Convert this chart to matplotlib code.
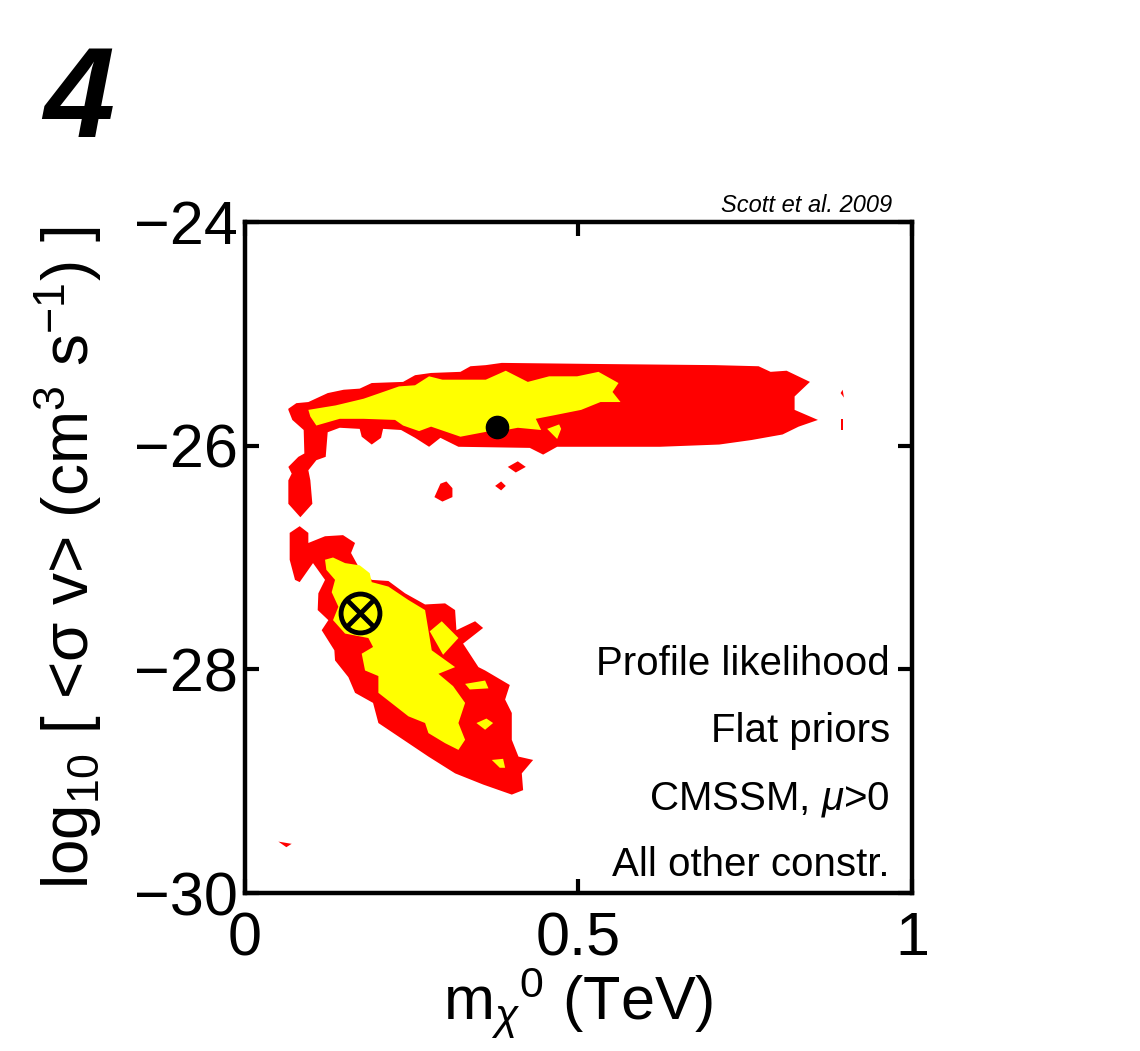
import matplotlib
matplotlib.use('Agg')
import matplotlib.pyplot as plt

plt.rcParams['font.family'] = ['Liberation Sans', 'DejaVu Sans']
plt.rcParams['mathtext.fontset'] = 'custom'
plt.rcParams['mathtext.rm'] = 'Liberation Sans'
plt.rcParams['mathtext.it'] = 'Liberation Sans:italic'

# contour outlines: x = neutralino mass (TeV), y = log10 <sigma v>
# upper branch, 95% (red)
upper_red_x = [0.065, 0.077, 0.095, 0.124, 0.148, 0.172, 0.190, 0.237, 0.255, 0.279,
               0.323, 0.338, 0.361, 0.385, 0.533, 0.705, 0.770, 0.788, 0.812, 0.847,
               0.824, 0.824, 0.859, 0.830, 0.806, 0.759, 0.711, 0.622, 0.468, 0.447,
               0.427, 0.320, 0.293, 0.276, 0.255, 0.234, 0.207, 0.204, 0.190, 0.175,
               0.172, 0.142, 0.124, 0.121, 0.107, 0.095, 0.098, 0.101, 0.083, 0.065,
               0.065, 0.070, 0.065, 0.080, 0.089, 0.088, 0.071, 0.065]
upper_red_y = [-25.67, -25.62, -25.61, -25.53, -25.50, -25.49, -25.44, -25.43, -25.37, -25.35,
               -25.34, -25.29, -25.28, -25.26, -25.27, -25.28, -25.29, -25.34, -25.33, -25.43,
               -25.56, -25.68, -25.77, -25.83, -25.90, -25.95, -25.99, -26.01, -26.01, -26.08,
               -26.02, -26.01, -25.93, -26.01, -25.93, -25.86, -25.85, -25.93, -25.99, -25.92,
               -25.85, -25.84, -25.88, -26.10, -26.13, -26.22, -26.31, -26.52, -26.64, -26.52,
               -26.31, -26.25, -26.19, -26.10, -26.07, -25.86, -25.77, -25.68]

# upper branch, 68% (yellow)
upper_yel_x = [0.095, 0.136, 0.178, 0.207, 0.231, 0.255, 0.276, 0.296, 0.361, 0.391,
               0.424, 0.456, 0.498, 0.530, 0.560, 0.551, 0.563, 0.533, 0.504, 0.462,
               0.436, 0.444, 0.409, 0.391, 0.367, 0.323, 0.279, 0.261, 0.237, 0.225,
               0.178, 0.142, 0.107, 0.098]
upper_yel_y = [-25.68, -25.64, -25.58, -25.52, -25.47, -25.46, -25.38, -25.41, -25.41, -25.33,
               -25.43, -25.38, -25.38, -25.34, -25.44, -25.52, -25.61, -25.61, -25.68, -25.73,
               -25.76, -25.86, -25.84, -25.86, -25.87, -25.92, -25.83, -25.87, -25.82, -25.77,
               -25.76, -25.76, -25.82, -25.74]

# lower branch, 95% (red)
lower_red_x = [0.067, 0.082, 0.095, 0.095, 0.120, 0.147, 0.165, 0.159, 0.170, 0.190,
               0.215, 0.240, 0.270, 0.300, 0.315, 0.317, 0.345, 0.357, 0.327, 0.350,
               0.360, 0.397, 0.390, 0.400, 0.400, 0.410, 0.432, 0.415, 0.417, 0.400,
               0.357, 0.315, 0.275, 0.230, 0.200, 0.192, 0.165, 0.155, 0.135, 0.134,
               0.115, 0.125, 0.109, 0.110, 0.120, 0.102, 0.082, 0.075, 0.067]
lower_red_y = [-26.78, -26.72, -26.78, -26.87, -26.81, -26.80, -26.87, -26.96, -27.08, -27.20,
               -27.21, -27.32, -27.42, -27.41, -27.47, -27.65, -27.57, -27.63, -27.77, -27.98,
               -28.01, -28.14, -28.27, -28.39, -28.63, -28.78, -28.81, -28.93, -29.08, -29.12,
               -29.03, -28.93, -28.78, -28.60, -28.48, -28.30, -28.21, -28.07, -27.92, -27.83,
               -27.65, -27.56, -27.47, -27.32, -27.20, -27.05, -27.22, -27.20, -27.02]

# lower branch, 68% (yellow)
lower_yel_x = [0.120, 0.132, 0.150, 0.172, 0.187, 0.190, 0.215, 0.245, 0.270, 0.275,
               0.280, 0.315, 0.290, 0.312, 0.330, 0.320, 0.330, 0.320, 0.300, 0.275,
               0.270, 0.245, 0.200, 0.200, 0.180, 0.175, 0.192, 0.185, 0.150, 0.132,
               0.140, 0.130, 0.135, 0.122]
lower_yel_y = [-27.02, -27.00, -27.05, -27.07, -27.14, -27.22, -27.26, -27.38, -27.47, -27.65,
               -27.83, -27.98, -28.04, -28.15, -28.30, -28.48, -28.63, -28.72, -28.66, -28.57,
               -28.48, -28.42, -28.21, -28.06, -28.01, -27.86, -27.80, -27.72, -27.68, -27.56,
               -27.44, -27.31, -27.20, -27.11]

# small islands
red_islands = [
    ([0.394, 0.409, 0.421, 0.406], [-26.19, -26.14, -26.19, -26.24]),
    ([0.375, 0.384, 0.391, 0.384], [-26.36, -26.32, -26.36, -26.40]),
    ([0.284, 0.293, 0.302, 0.311, 0.311, 0.296], [-26.46, -26.34, -26.32, -26.38, -26.46, -26.50]),
    ([0.893, 0.896, 0.898], [-25.53, -25.50, -25.57]),
    ([0.893, 0.897, 0.897, 0.893], [-25.76, -25.76, -25.86, -25.86]),
    ([0.050, 0.070, 0.062], [-29.54, -29.56, -29.59]),
]
yel_islands = [
    ([0.453, 0.471, 0.474, 0.468], [-25.85, -25.81, -25.85, -25.94]),
    ([0.277, 0.295, 0.320, 0.297], [-27.66, -27.57, -27.72, -27.87]),
    ([0.330, 0.360, 0.365, 0.337], [-28.13, -28.10, -28.17, -28.18]),
    ([0.347, 0.362, 0.372, 0.360], [-28.48, -28.44, -28.48, -28.54]),
    ([0.370, 0.387, 0.390, 0.382], [-28.81, -28.80, -28.88, -28.88]),
]

best_fit = (0.172, -27.50)   # crossed circle
post_mean = (0.378, -25.83)  # black dot

notes = ['Profile likelihood', 'Flat priors', r'CMSSM, $\mu$>0', 'All other constr.']

fig = plt.figure(figsize=(11.4, 10.51), dpi=100)
ax = fig.add_axes([0.2149, 0.1503, 0.5851, 0.6385])

red = '#ff0000'
yellow = '#ffff00'
ax.fill(upper_red_x, upper_red_y, color=red, lw=0)
ax.fill(lower_red_x, lower_red_y, color=red, lw=0)
for xs, ys in red_islands:
    ax.fill(xs, ys, color=red, lw=0)
ax.fill(upper_yel_x, upper_yel_y, color=yellow, lw=0)
ax.fill(lower_yel_x, lower_yel_y, color=yellow, lw=0)
for xs, ys in yel_islands:
    ax.fill(xs, ys, color=yellow, lw=0)

ax.plot(*post_mean, 'o', color='k', ms=16)
ax.plot(*best_fit, 'o', mfc='none', mec='k', mew=3.5, ms=28)
ax.plot(*best_fit, 'x', color='k', mew=3.5, ms=19)

ax.set_xlim(0, 1)
ax.set_ylim(-30, -24)
ax.set_xticks([0, 0.5, 1])
ax.set_xticklabels(['0', '0.5', '1'])
ax.set_yticks([-30, -28, -26, -24])
ax.tick_params(direction='in', length=10, width=3, labelsize=44,
               top=True, right=True)
ax.tick_params(axis='x', pad=13)
ax.tick_params(axis='y', pad=5)
for s in ax.spines.values():
    s.set_linewidth(3.2)

ax.set_xlabel(r'm$_{\chi}$$^{0}$ (TeV)', fontsize=44, labelpad=-2)
ax.set_ylabel(r'log$_{10}$ [ <σ v> (cm$^{3}$ s$^{-1}$) ]', fontsize=46, labelpad=22)

for i, t in enumerate(notes):
    ax.text(0.967, 0.325 - i * 0.1, t, transform=ax.transAxes, ha='right',
            va='baseline', fontsize=29)

ax.text(0.97, 1.008, 'Scott et al. 2009', transform=ax.transAxes, ha='right',
        va='bottom', fontsize=17, style='italic')

fig.text(0.038, 0.87, '4', fontsize=92, fontweight='bold', style='italic')

fig.savefig('out.png', dpi=100)
